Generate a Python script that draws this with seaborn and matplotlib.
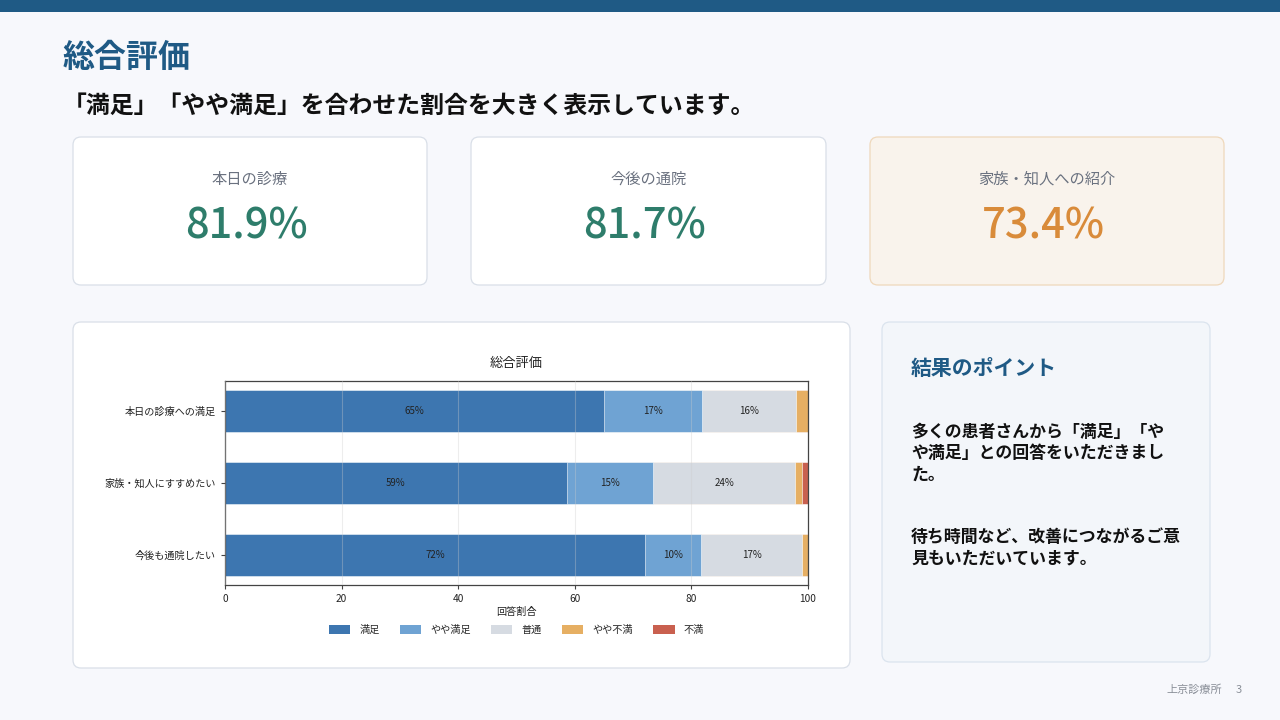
import matplotlib
matplotlib.use("Agg")
import matplotlib.pyplot as plt
from matplotlib.patches import FancyBboxPatch, Rectangle
import seaborn as sns
import pandas as pd
import numpy as np

# ---------------- data ----------------
questions = ["本日の診療への満足", "家族・知人にすすめたい", "今後も通院したい"]
levels = ["満足", "やや満足", "普通", "やや不満", "不満"]
satisfied = [65.0, 58.6, 72.0]
somewhat_satisfied = [16.9, 14.8, 9.7]
neutral = [16.0, 24.4, 17.3]
somewhat_dissatisfied = [2.1, 1.1, 1.0]
dissatisfied = [0.0, 1.1, 0.0]

kpi_labels = ["本日の診療", "今後の通院", "家族・知人への紹介"]
kpi_source = ["本日の診療への満足", "今後も通院したい", "家族・知人にすすめたい"]

level_colors = ["#3d76b0", "#6fa3d3", "#d6dbe2", "#e6af63", "#c9604f"]

title_text = "総合評価"
subtitle_text = "「満足」「やや満足」を合わせた割合を大きく表示しています。"
point_title = "結果のポイント"
point_lines = [
    "多くの患者さんから「満足」「や",
    "や満足」との回答をいただきまし",
    "た。",
    "",
    "待ち時間など、改善につながるご意",
    "見もいただいています。",
]
footer_text = "上京診療所"
page_no = "3"

# ---------------- setup ----------------
sns.set_theme(style="white")
plt.rcParams["font.family"] = ["Noto Sans CJK JP", "DejaVu Sans"]

W, H = 1280, 720
fig = plt.figure(figsize=(W / 100, H / 100), dpi=100)
fig.patch.set_facecolor("#f7f8fc")

bg = fig.add_axes([0, 0, 1, 1])
bg.set_xlim(0, W)
bg.set_ylim(H, 0)
bg.axis("off")
bg.set_zorder(0)

# top bar
bg.add_patch(Rectangle((0, 0), W, 12, facecolor="#1f5a85", edgecolor="none"))

bg.text(63, 58, title_text, fontsize=23, fontweight="bold", color="#1f5a85",
        va="center", ha="left")
bg.text(63, 106, subtitle_text, fontsize=17.2, fontweight="bold", color="#111111",
        va="center", ha="left")


def card(x0, y0, x1, y1, fc, ec, r=8):
    p = FancyBboxPatch((x0 + r, y0 + r), (x1 - x0) - 2 * r, (y1 - y0) - 2 * r,
                       boxstyle=f"round,pad={r}", facecolor=fc, edgecolor=ec,
                       linewidth=0.9)
    bg.add_patch(p)


df = pd.DataFrame({
    "question": questions,
    "満足": satisfied,
    "やや満足": somewhat_satisfied,
    "普通": neutral,
    "やや不満": somewhat_dissatisfied,
    "不満": dissatisfied,
})
top2 = dict(zip(df["question"], df["満足"] + df["やや満足"]))

card_x = [(73, 427), (471, 826), (870, 1224)]
card_fc = ["#ffffff", "#ffffff", "#f9f3ec"]
card_ec = ["#d9dfe8", "#d9dfe8", "#efd8bb"]
value_colors = ["#2e7d6b", "#2e7d6b", "#d98b3a"]
for (x0, x1), lab, src, fc, ec, vc in zip(card_x, kpi_labels, kpi_source,
                                          card_fc, card_ec, value_colors):
    card(x0, 137, x1, 285, fc, ec)
    cx = (x0 + x1) / 2
    bg.text(cx, 179, lab, fontsize=11, color="#6b7280", ha="center", va="center")
    bg.text(cx - 4, 226, f"{top2[src]:.1f}%", fontsize=30, color=vc,
            ha="center", va="center", fontweight="medium")

# chart panel
card(73, 322, 850, 668, "#ffffff", "#d9dfe8")
# points panel
card(882, 322, 1210, 662, "#f3f6fa", "#dbe4ee")

bg.text(911, 368, point_title, fontsize=15, fontweight="bold", color="#1f5a85",
        ha="left", va="center")
y = 432
for line in point_lines:
    if line:
        bg.text(911, y, line, fontsize=12.2, fontweight="bold", color="#111111",
                ha="left", va="center")
    y += 21.5 if line else 40

bg.text(1222, 690, footer_text, fontsize=8, color="#8a8f98", ha="right", va="center")
bg.text(1239, 690, page_no, fontsize=8, color="#8a8f98", ha="center", va="center")

# ---------------- chart ----------------
ax_l, ax_r, ax_t, ax_b = 225, 808, 381, 585
ax = fig.add_axes([ax_l / W, 1 - ax_b / H, (ax_r - ax_l) / W, (ax_b - ax_t) / H])
ax.set_zorder(2)
ax.set_facecolor("white")

cum = df[levels].cumsum(axis=1)
# draw cumulative bars from total down to first level so they appear stacked
for lvl, col in reversed(list(zip(levels, level_colors))):
    d = pd.DataFrame({"question": df["question"], "cum": cum[lvl]})
    sns.barplot(data=d, x="cum", y="question", order=questions, color=col,
                width=0.58, saturation=1, ax=ax, edgecolor="white",
                linewidth=0.4, zorder=2)

# segment labels
for i, q in enumerate(questions):
    left = 0.0
    for lvl in levels:
        v = float(df.loc[df["question"] == q, lvl].iloc[0])
        if v >= 5:
            ax.text(left + v / 2, i, f"{v:.0f}%", ha="center", va="center",
                    fontsize=7, color="#222222", zorder=5)
        left += v

ax.set_xlim(0, 100)
ax.set_ylim(2.42, -0.42)
ax.set_xticks([0, 20, 40, 60, 80, 100])
ax.grid(axis="x", color="#cccccc", alpha=0.35, linewidth=0.8)
ax.set_axisbelow(False)
for s in ax.spines.values():
    s.set_visible(True)
    s.set_color("#444444")
    s.set_linewidth(0.9)
ax.tick_params(axis="both", which="both", length=3, width=0.8, color="#444444",
               labelsize=7.3, labelcolor="#222222", bottom=True, left=True)
ax.set_ylabel("")
ax.set_xlabel("回答割合", fontsize=7.3, color="#222222", labelpad=2)
ax.set_title("総合評価", fontsize=9.5, color="#222222", pad=10)

handles = [Rectangle((0, 0), 1, 1, facecolor=c, edgecolor="none") for c in level_colors]
ax.legend(handles, levels, loc="upper center", bbox_to_anchor=(0.5, -0.15),
          ncol=5, frameon=False, fontsize=7.3, handlelength=2.1, handleheight=0.9,
          columnspacing=2.0, handletextpad=0.9)

fig.savefig("out.png", dpi=100, facecolor=fig.get_facecolor())
